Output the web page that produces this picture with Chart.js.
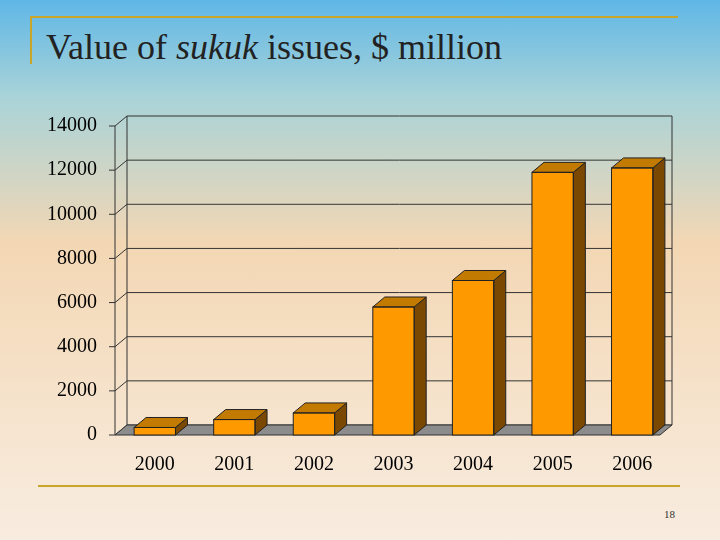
<!DOCTYPE html>
<html><head><meta charset="utf-8">
<script src="https://cdn.jsdelivr.net/npm/chart.js@4"></script>
<style>
body{margin:0;width:720px;height:540px;overflow:hidden;
 background:linear-gradient(#5fb7e6 0%,#a9d3d8 18%,#f3d7b4 45%,#f6e3cc 75%,#f8ece0 100%);position:relative;font-family:"Liberation Serif",serif}
#title{position:absolute;left:46px;top:26px;font-size:36px;color:#222}
.l{position:absolute;background:#c9a52a}
#num{position:absolute;left:664px;top:508px;font-size:11px;color:#333}
canvas{position:absolute;left:0;top:0}
</style></head><body>
<div class="l" style="left:30px;top:16px;width:648px;height:2px"></div>
<div class="l" style="left:30px;top:16px;width:2px;height:48px"></div>
<div class="l" style="left:38px;top:485px;width:642px;height:2px"></div>
<div id="title">Value of <i>sukuk</i> issues, $ million</div>
<div id="num">18</div>
<canvas id="c" width="720" height="540"></canvas>
<script>
const years = ["2000","2001","2002","2003","2004","2005","2006"];
const values = [340, 700, 1000, 5800, 7000, 11900, 12100];
const DX = 12, DY = 10;

const threeD = {
  id: "threeD",
  beforeDatasetsDraw(chart) {
    const {ctx, chartArea: a, scales: {y}} = chart;
    ctx.save();
    ctx.strokeStyle = "#333"; ctx.lineWidth = 1;
    y.ticks.forEach(t => {
      const py = y.getPixelForValue(t.value);
      ctx.beginPath();
      ctx.moveTo(a.left - 6, py); ctx.lineTo(a.left, py); ctx.lineTo(a.left + DX, py - DY); ctx.lineTo(a.right, py - DY);
      ctx.stroke();
    });
    ctx.beginPath();
    ctx.moveTo(a.left + DX, a.top - DY); ctx.lineTo(a.left + DX, a.bottom - DY);
    ctx.moveTo(a.right, a.top - DY); ctx.lineTo(a.right, a.bottom - DY);
    ctx.moveTo(a.left, a.top); ctx.lineTo(a.left, a.bottom);
    ctx.stroke();
    ctx.fillStyle = "#8c8c8c";
    ctx.beginPath();
    ctx.moveTo(a.left, a.bottom); ctx.lineTo(a.left + DX, a.bottom - DY);
    ctx.lineTo(a.right, a.bottom - DY); ctx.lineTo(a.right - DX, a.bottom);
    ctx.closePath(); ctx.fill(); ctx.stroke();
    ctx.restore();
  },
  afterDatasetsDraw(chart) {
    const {ctx} = chart;
    ctx.save();
    ctx.strokeStyle = "#222"; ctx.lineWidth = 1;
    chart.getDatasetMeta(0).data.forEach(b => {
      const l = b.x - b.width / 2, r = b.x + b.width / 2, t = b.y, bt = b.base;
      ctx.fillStyle = "#7a4800";
      ctx.beginPath();
      ctx.moveTo(r, bt); ctx.lineTo(r + DX, bt - DY); ctx.lineTo(r + DX, t - DY); ctx.lineTo(r, t);
      ctx.closePath(); ctx.fill(); ctx.stroke();
      ctx.fillStyle = "#c27a00";
      ctx.beginPath();
      ctx.moveTo(l, t); ctx.lineTo(l + DX, t - DY); ctx.lineTo(r + DX, t - DY); ctx.lineTo(r, t);
      ctx.closePath(); ctx.fill(); ctx.stroke();
      ctx.strokeRect(l, t, r - l, bt - t);
    });
    ctx.restore();
  }
};

new Chart(document.getElementById("c"), {
  type: "bar",
  data: { labels: years, datasets: [{ data: values, backgroundColor: "#ff9900", barPercentage: 0.52, categoryPercentage: 1 }] },
  options: {
    responsive: false, animation: false,
    layout: { padding: { left: 20, right: 48, top: 126, bottom: 65 } },
    plugins: { legend: { display: false }, tooltip: { enabled: false } },
    scales: {
      y: {
        min: 0, max: 14000,
        ticks: { stepSize: 2000, padding: 10, color: "#000", callback: v => String(v), font: { family: "Liberation Serif", size: 20 } },
        grid: { display: false }, border: { display: false },
        afterFit: s => { s.width = 95; }
      },
      x: {
        ticks: { color: "#000", font: { family: "Liberation Serif", size: 20 }, padding: 10 },
        grid: { display: false }, border: { display: false },
        afterFit: s => { s.height = 40; }
      }
    }
  },
  plugins: [threeD]
});
</script>
</body></html>
